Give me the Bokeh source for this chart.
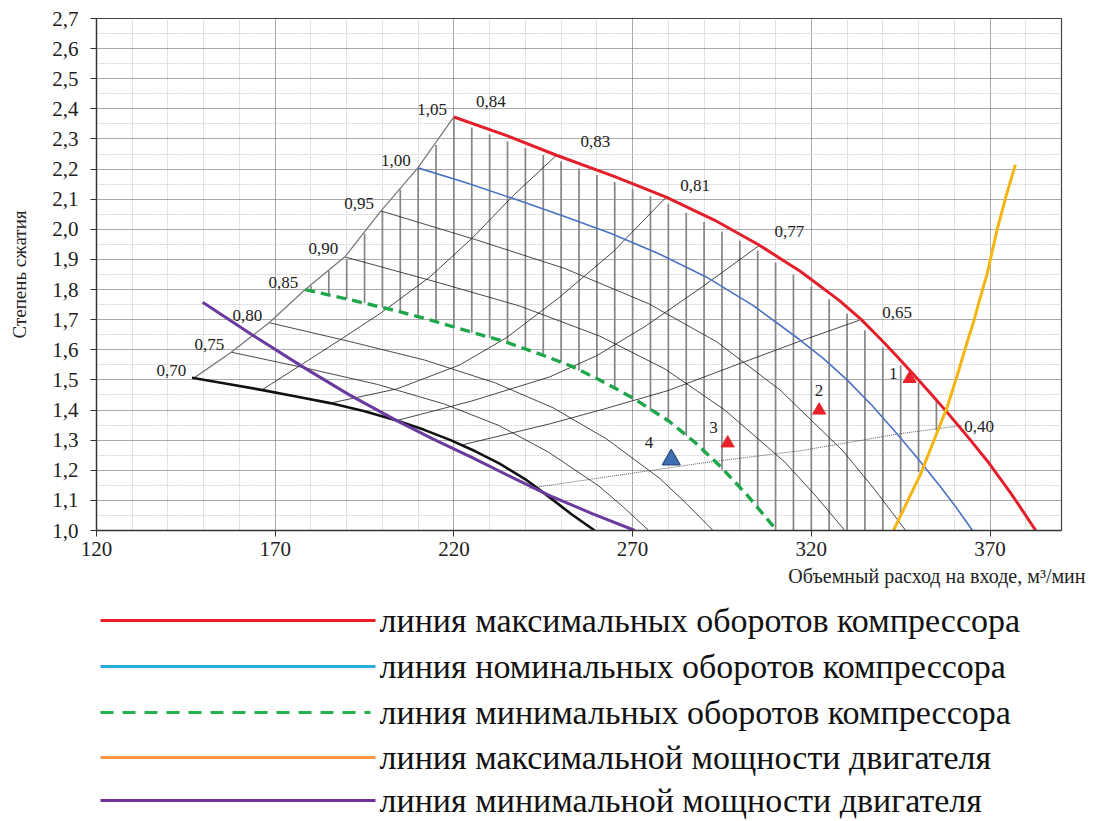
from bokeh.plotting import figure
from bokeh.layouts import column
from bokeh.models import FixedTicker, Range1d, ColumnDataSource, Title
from bokeh.core.properties import value
from bokeh.embed import file_html
from bokeh.resources import INLINE

SERIF = "Liberation Serif"

# ---- axes -------------------------------------------------------------
x_ticks = [120, 170, 220, 270, 320, 370]
x_minor = [130, 140, 150, 160, 180, 190, 200, 210, 230, 240, 250, 260,
           280, 290, 300, 310, 330, 340, 350, 360, 380]
y_ticks = [1.0, 1.1, 1.2, 1.3, 1.4, 1.5, 1.6, 1.7, 1.8, 1.9,
           2.0, 2.1, 2.2, 2.3, 2.4, 2.5, 2.6, 2.7]
y_tick_labels = ["1,0", "1,1", "1,2", "1,3", "1,4", "1,5", "1,6", "1,7", "1,8",
                 "1,9", "2,0", "2,1", "2,2", "2,3", "2,4", "2,5", "2,6", "2,7"]
y_minor = [1.05, 1.15, 1.25, 1.35, 1.45, 1.55, 1.65, 1.75, 1.85, 1.95,
           2.05, 2.15, 2.25, 2.35, 2.45, 2.55, 2.65]
x_title = "Объемный расход на входе, м³/мин"
y_title = "Степень сжатия"

# ---- surge line (points where each speed line starts) -------------------
surge_speed = ["0,70", "0,75", "0,80", "0,85", "0,90", "0,95", "1,00", "1,05"]
surge_q = [147.1, 157.7, 168.3, 178.4, 189.6, 199.6, 209.9, 220.0]
surge_pr = [1.505, 1.592, 1.690, 1.800, 1.910, 2.061, 2.204, 2.373]

# ---- constant relative speed lines -------------------------------------
n070_q = [146.7, 156.0, 166.1, 175.5, 185.4, 195.0, 204.0, 211.5, 218.9, 226.0,
          232.8, 240.0, 246.8, 253.0, 259.4]
n070_pr = [1.507, 1.488, 1.467, 1.446, 1.423, 1.396, 1.365, 1.335, 1.301, 1.263,
           1.222, 1.170, 1.110, 1.053, 1.000]
n075_q = [157.7, 178.7, 198.6, 217.3, 232.5, 246.5, 260.5, 267.5, 274.5]
n075_pr = [1.592, 1.539, 1.485, 1.420, 1.349, 1.260, 1.148, 1.077, 1.000]
n080_q = [168.3, 190.7, 211.8, 231.6, 247.8, 262.7, 277.6, 285.0, 292.5]
n080_pr = [1.690, 1.628, 1.566, 1.490, 1.407, 1.304, 1.173, 1.090, 1.000]
n085_q = [178.4, 191.0, 204.4, 214.0, 224.0, 234.5, 244.9, 253.0, 260.8, 270.5,
          280.3, 287.5, 294.8, 302.0, 309.5]
n085_pr = [1.800, 1.766, 1.728, 1.697, 1.662, 1.626, 1.582, 1.545, 1.500, 1.437,
           1.362, 1.292, 1.210, 1.118, 1.012]
n090_q = [189.6, 214.8, 238.5, 260.9, 279.1, 295.8, 312.6, 321.0, 329.4]
n090_pr = [1.908, 1.826, 1.745, 1.645, 1.536, 1.400, 1.227, 1.118, 1.000]
n095_q = [199.6, 226.0, 251.0, 274.5, 293.6, 311.2, 328.8, 337.6, 346.4]
n095_pr = [2.061, 1.966, 1.870, 1.753, 1.626, 1.467, 1.265, 1.138, 1.000]
n100_q = [209.9, 223.0, 236.6, 250.0, 264.0, 277.5, 290.6, 304.0, 316.6, 323.5,
          330.0, 337.0, 344.2, 350.0, 355.8, 360.5, 365.1]
n100_pr = [2.204, 2.156, 2.102, 2.047, 1.986, 1.918, 1.842, 1.745, 1.635, 1.570,
           1.500, 1.415, 1.318, 1.236, 1.150, 1.077, 1.000]
n105_q = [220.0, 235.0, 248.7, 265.0, 279.4, 293.0, 305.5, 317.0, 327.8, 334.0,
          339.5, 344.0, 348.3, 353.0, 357.6, 363.5, 369.7, 376.0, 382.8]
n105_pr = [2.373, 2.310, 2.246, 2.175, 2.107, 2.030, 1.947, 1.860, 1.764, 1.700,
           1.634, 1.578, 1.522, 1.460, 1.398, 1.315, 1.224, 1.121, 1.000]

# ---- efficiency lines, labelled where they meet the top speed line -----
eta_labels = ["0,84", "0,83", "0,81", "0,77", "0,65", "0,40"]
eta083_q = [166.3, 177.0, 188.0, 199.3, 213.3, 225.4, 236.6, 248.7]
eta083_pr = [1.467, 1.548, 1.632, 1.720, 1.842, 1.974, 2.112, 2.246]
eta081_q = [185.4, 204.0, 221.7, 234.7, 249.6, 264.5, 279.4]
eta081_pr = [1.423, 1.470, 1.550, 1.640, 1.775, 1.925, 2.107]
eta077_q = [204.0, 225.0, 246.8, 259.9, 273.8, 289.6, 305.5]
eta077_pr = [1.365, 1.430, 1.510, 1.580, 1.680, 1.810, 1.947]
eta065_q = [222.6, 246.8, 262.2, 280.0, 299.9, 316.0, 333.4]
eta065_pr = [1.285, 1.354, 1.404, 1.465, 1.554, 1.625, 1.698]
eta040_q = [241.0, 262.2, 290.0, 317.6, 344.6, 362.2]
eta040_pr = [1.140, 1.177, 1.225, 1.266, 1.321, 1.349]

# ---- engine power limits -----------------------------------------------
max_power_q = [343.0, 346.8, 350.6, 354.3, 358.0, 360.9, 363.6, 365.5, 367.3,
               369.2, 372.0, 374.5, 377.1]
max_power_pr = [1.000, 1.094, 1.188, 1.299, 1.409, 1.518, 1.625, 1.697, 1.775,
                1.852, 2.000, 2.110, 2.215]
min_power_q = [149.7, 163.5, 177.5, 190.5, 204.0, 214.5, 225.0, 236.0, 246.8,
               258.5, 270.6]
min_power_pr = [1.758, 1.650, 1.545, 1.452, 1.365, 1.302, 1.243, 1.178, 1.116,
                1.057, 1.000]

# ---- working zone hatching: vertical strokes every 5 m3/min -------------
hatch_q = [180, 185, 190, 195, 200, 205, 210, 215, 220, 225, 230, 235, 240,
           245, 250, 255, 260, 265, 270, 275, 280, 285, 290, 295, 300, 305,
           310, 315, 320, 325, 330, 335, 340, 345, 350, 355]
hatch_top = [1.812, 1.862, 1.900, 1.985, 2.062, 2.132, 2.204, 2.280, 2.370,
             2.338, 2.315, 2.292, 2.270, 2.247, 2.225, 2.202, 2.180, 2.157,
             2.133, 2.110, 2.085, 2.055, 2.024, 1.993, 1.962, 1.930, 1.890,
             1.850, 1.810, 1.768, 1.720, 1.665, 1.608, 1.548, 1.490, 1.440]
hatch_bottom = [1.797, 1.783, 1.769, 1.755, 1.741, 1.727, 1.710, 1.692, 1.675,
                1.657, 1.640, 1.622, 1.605, 1.587, 1.559, 1.531, 1.502, 1.468,
                1.433, 1.398, 1.362, 1.314, 1.256, 1.202, 1.136, 1.070, 1.000,
                1.000, 1.000, 1.000, 1.000, 1.000, 1.000, 1.055, 1.194, 1.332]

# ---- operating points ----------------------------------------------------
pt_labels = ["1", "2", "3"]
pt_q = [347.5, 322.2, 296.6]
pt_pr = [1.504, 1.399, 1.290]
pt4_label = ["4"]
pt4_q = [280.8]
pt4_pr = [1.235]

legend_labels = ["линия максимальных оборотов компрессора",
                 "линия номинальных оборотов компрессора",
                 "линия минимальных оборотов компрессора",
                 "линия максимальной мощности двигателя",
                 "линия минимальной мощности двигателя"]
legend_colors = ["#ed1c24", "#29abe2", "#22b14c", "#f7964a", "#7030a0"]
legend_dash = ["solid", "solid", "13 9", "solid", "solid"]

# =========================================================================
TOP_H = 594
p = figure(width=1102, height=TOP_H, x_range=Range1d(120, 390), y_range=Range1d(1.0, 2.7),
           output_backend="svg", toolbar_location=None,
           min_border_left=96, min_border_right=41, min_border_top=18, min_border_bottom=TOP_H - 530)
p.background_fill_color = "white"
p.border_fill_color = "white"
p.outline_line_color = "#444444"
p.outline_line_width = 1.2

p.xgrid.ticker = FixedTicker(ticks=x_ticks, minor_ticks=x_minor)
p.ygrid.ticker = FixedTicker(ticks=y_ticks, minor_ticks=y_minor)
for g in (p.xgrid, p.ygrid):
    g.grid_line_color = "#555555"
    g.grid_line_dash = "1 1"
    g.grid_line_width = 1
    g.minor_grid_line_color = "#d4d4d4"
    g.minor_grid_line_dash = "2 1"
    g.minor_grid_line_width = 1

xa = p.xaxis[0]
xa.ticker = FixedTicker(ticks=x_ticks)
ya = p.yaxis[0]
ya.ticker = FixedTicker(ticks=y_ticks)
ya.major_label_overrides = {t: s for t, s in zip(y_ticks, y_tick_labels)}
for a in (xa, ya):
    a.axis_line_color = "#333333"
    a.axis_line_width = 1.3
    a.major_tick_line_color = "#333333"
    a.major_tick_out = 6
    a.major_tick_in = 0
    a.minor_tick_line_color = None
    a.major_label_text_font = SERIF
    a.major_label_text_font_size = "21px"
    a.major_label_text_color = "#222222"
xa.major_label_standoff = 5
ya.major_label_standoff = 12
ya.axis_label = y_title
ya.axis_label_text_font = SERIF
ya.axis_label_text_font_size = "19px"
ya.axis_label_text_font_style = "normal"
ya.axis_label_text_color = "#222222"
ya.axis_label_standoff = 19

# x axis title, right-aligned under the axis
p.add_layout(Title(text=x_title, align="right", offset=-24, standoff=9,
                   text_font=SERIF, text_font_size="20px", text_font_style="normal",
                   text_color="#222222"), "below")

# hatching of the working zone
p.segment(x0=hatch_q, y0=hatch_bottom, x1=hatch_q, y1=hatch_top,
          line_color="#858585", line_width=1.7)

# thin speed lines
for q, pr in ((n075_q, n075_pr), (n080_q, n080_pr), (n090_q, n090_pr), (n095_q, n095_pr)):
    p.line(q, pr, line_color="#1a1a1a", line_width=0.8)
# efficiency lines
for q, pr in ((eta083_q, eta083_pr), (eta081_q, eta081_pr), (eta077_q, eta077_pr),
              (eta065_q, eta065_pr)):
    p.line(q, pr, line_color="#1a1a1a", line_width=0.8)
p.line(eta040_q, eta040_pr, line_color="#333333", line_width=0.8, line_dash="1 1")

# surge line and lowest speed line
p.line(surge_q, surge_pr, line_color="#7a7a7a", line_width=1.3)
p.line(n070_q, n070_pr, line_color="#111111", line_width=2.6)

# highlighted lines
p.line(n085_q, n085_pr, line_color="#1fa64a", line_width=3.4, line_dash="10 6")
p.line(n100_q, n100_pr, line_color="#4a72c2", line_width=1.6)
p.line(n105_q, n105_pr, line_color="#e3202a", line_width=3)
p.line(max_power_q, max_power_pr, line_color="#f4b412", line_width=3)
p.line(min_power_q, min_power_pr, line_color="#6a3a9e", line_width=3)

# operating points
p.scatter(pt_q, pt_pr, marker="triangle", size=13, fill_color="#e8202a", line_color="#e8202a")
p.scatter(pt4_q, pt4_pr, marker="triangle", size=18, fill_color="#3f6fae", line_color="#2c4f82",
          line_width=1.2)

font = value(SERIF)
surge_src = ColumnDataSource(dict(x=surge_q, y=surge_pr, t=surge_speed))
p.text(x="x", y="y", text="t", source=surge_src, text_font=font, text_font_size=value("17px"),
       text_align="right", text_baseline="bottom", x_offset=-7, y_offset=-2, text_color="#222222")

eta_end_q = [surge_q[-1], eta083_q[-1], eta081_q[-1], eta077_q[-1], eta065_q[-1], eta040_q[-1]]
eta_end_pr = [surge_pr[-1], eta083_pr[-1], eta081_pr[-1], eta077_pr[-1], eta065_pr[-1], eta040_pr[-1]]
eta_src = ColumnDataSource(dict(x=eta_end_q, y=eta_end_pr, t=eta_labels,
                                dx=[22, 24, 14, 15, 23, 2], dy=[-10, -8, -6, -8, -2, 7]))
p.text(x="x", y="y", text="t", source=eta_src, text_font=font, text_font_size=value("17px"),
       text_align="left", text_baseline="bottom", x_offset="dx", y_offset="dy", text_color="#222222")

pt_src = ColumnDataSource(dict(x=pt_q + pt4_q, y=pt_pr + pt4_pr, t=pt_labels + pt4_label,
                               dx=[-12, 4, -10, -18], dy=[0, -14, -10, -12]))
p.text(x="x", y="y", text="t", source=pt_src, text_font=font, text_font_size=value("17px"),
       text_align="right", text_baseline="bottom", x_offset="dx", y_offset="dy", text_color="#222222")

# =========================================================================
# legend panel: page pixel coordinates, y pointing down
BOT_H = 821 - TOP_H
q = figure(width=1102, height=BOT_H, x_range=Range1d(96, 1061), y_range=Range1d(BOT_H, 0),
           output_backend="svg", toolbar_location=None,
           x_axis_location=None, y_axis_location=None,
           min_border_left=96, min_border_right=41, min_border_top=0, min_border_bottom=0)
q.outline_line_color = None
q.grid.visible = False
q.background_fill_color = "white"
q.border_fill_color = "white"

row_y = [620 - TOP_H, 666 - TOP_H, 712 - TOP_H, 757 - TOP_H, 800 - TOP_H]
for i, (c, d) in enumerate(zip(legend_colors, legend_dash)):
    x_end = 370 if d != "solid" else 375
    q.line([100, x_end], [row_y[i], row_y[i]], line_color=c, line_width=3, line_dash=d)
q.text(x=[379] * 5, y=row_y, text=legend_labels, text_font=font, text_font_size=value("34px"),
       text_align="left", text_baseline="middle", text_color="#111111")

layout = column(p, q, spacing=0)
open("out.html", "w").write(file_html(layout, INLINE))
